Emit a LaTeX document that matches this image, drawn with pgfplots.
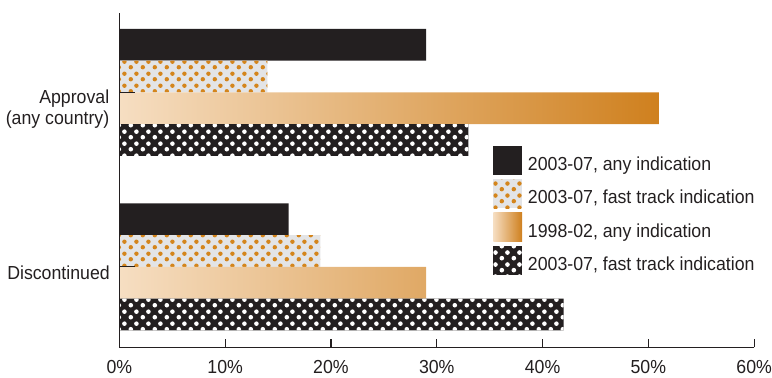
\documentclass[border=0pt]{standalone}
\usepackage{fontspec}
\setmainfont{Liberation Sans}[FakeStretch=0.94]
\usepackage{pgfplots}
\pgfplotsset{compat=1.18}
\usetikzlibrary{patterns}

\definecolor{darkk}{HTML}{231F20}
\definecolor{dotorange}{HTML}{D4851C}
\definecolor{lgray}{HTML}{E3E4E6}
\definecolor{gradL}{HTML}{F6DEC2}
\definecolor{gradR}{HTML}{CF801E}

\pgfdeclarepatternformonly{hexdots}{\pgfqpoint{0pt}{0pt}}{\pgfqpoint{11.7pt}{11.6pt}}{\pgfqpoint{11.7pt}{11.6pt}}{%
  \pgfpathcircle{\pgfqpoint{2.925pt}{2.9pt}}{2.3pt}%
  \pgfpathcircle{\pgfqpoint{8.775pt}{8.7pt}}{2.3pt}%
  \pgfusepath{fill}%
}
\pgfdeclarepatternformonly{hexdotsW}{\pgfqpoint{0pt}{0pt}}{\pgfqpoint{11.7pt}{11.6pt}}{\pgfqpoint{11.7pt}{11.6pt}}{%
  \pgfpathcircle{\pgfqpoint{2.925pt}{2.9pt}}{2.4pt}%
  \pgfpathcircle{\pgfqpoint{8.775pt}{8.7pt}}{2.4pt}%
  \pgfusepath{fill}%
}

\newcommand{\myfont}{\fontsize{19}{22}\selectfont}

\begin{document}
\begin{tikzpicture}
\begin{axis}[
  name=ax,
  scale only axis,
  width=639.7pt, height=337pt,
  xmin=0, xmax=60, ymin=-0.4602, ymax=1.4545,
  xbar, bar width=32pt,
  clip=false,
  axis x line=bottom, axis y line=left,
  axis line style={-, line width=1.6pt, draw=darkk},
  tick align=inside,
  xtick={0,10,...,60},
  xticklabels={0\%,10\%,20\%,30\%,40\%,50\%,60\%},
  ytick={0,1}, yticklabels={,,},
  xtick style={line width=1.3pt, draw=darkk, /pgfplots/major tick length=8pt},
  ytick style={line width=0.9pt, draw=darkk, /pgfplots/major tick length=16pt},
  xticklabel style={font=\myfont, text=darkk, inner sep=0pt, outer sep=0pt, anchor=north, yshift=-13.5pt},
  axis on top,
  legend cell align=left,
  legend style={draw=none, fill=none, inner sep=0pt, outer sep=0pt,
    row sep=4.7pt, column sep=6pt, font=\myfont, text=darkk,
    nodes={inner sep=0pt, outer sep=0pt},
    cells={anchor=base west},
    at={(axis cs:35.34,0.6932)}, anchor=north west},
  legend image code/.code={\path[#1] (0pt,-4.5pt) rectangle (29pt,24.5pt);},
]
\addplot[draw=none, fill=darkk, bar shift=48pt] coordinates {(16,0) (29,1)};
\addplot[draw=none, fill=lgray, postaction={pattern=hexdots, pattern color=dotorange}, bar shift=16pt] coordinates {(19,0) (14,1)};
\addplot[draw=none, left color=gradL, right color=gradR, bar shift=-16pt] coordinates {(29,0) (51,1)};
\addplot[draw=none, fill=darkk, postaction={pattern=hexdotsW, pattern color=white}, bar shift=-48pt] coordinates {(42,0) (33,1)};
\legend{{2003-07, any indication}, {2003-07, fast track indication}, {1998-02, any indication}, {2003-07, fast track indication}}

\node[anchor=base east, inner sep=0pt, font=\myfont, text=darkk, xshift=-9.5pt] at (axis cs:0,-0.0739) {Discontinued};
\node[anchor=east, align=right, inner sep=0pt, font=\myfont, text=darkk, xshift=-10pt] at (axis cs:0,0.9034) {Approval\\(any country)};
\end{axis}
\pgfresetboundingbox
\path ([xshift=-120.3pt,yshift=-30pt]ax.south west) rectangle ++(778pt,380pt);
\end{tikzpicture}
\end{document}
